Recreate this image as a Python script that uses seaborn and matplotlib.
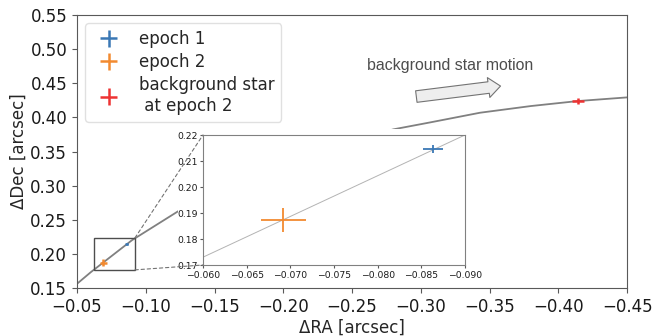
import numpy as np
import seaborn as sns
import matplotlib
matplotlib.use("Agg")
import matplotlib.pyplot as plt
from matplotlib.patches import Rectangle, ConnectionPatch

# track of a background star
track_ra = [-0.05, -0.06, -0.09, -0.124, -0.161, -0.198, -0.234, -0.280,
            -0.307, -0.343, -0.380, -0.414, -0.45]
track_dec = [0.156, 0.173, 0.220, 0.263, 0.2995, 0.3302, 0.3566, 0.3825,
             0.3928, 0.4069, 0.4167, 0.424, 0.4294]

# measured positions
ep1_ra, ep1_dec, ep1_xerr, ep1_yerr = -0.0863, 0.2146, 0.00115, 0.0015
ep2_ra, ep2_dec, ep2_xerr, ep2_yerr = -0.0692, 0.1873, 0.0026, 0.0047
bg_ra, bg_dec, bg_xerr, bg_yerr = -0.414, 0.424, 0.0044, 0.004

labels = ["epoch 1", "epoch 2", "background star\n at epoch 2"]
colors = ["#3a78b5", "#f28a30", "#ee3333"]

# zoom box in main axes
box_ra = (-0.0625, -0.0922)
box_dec = (0.1765, 0.2235)

sns.set_style("ticks", {"axes.edgecolor": "0.35", "xtick.color": "0.35", "ytick.color": "0.35"})
plt.rcParams.update({"font.size": 12, "font.family": ["DejaVu Sans"],
                     "xtick.labelcolor": "0.1", "ytick.labelcolor": "0.1"})

fig = plt.figure(figsize=(6.52, 3.36), dpi=100)
ax = fig.add_axes([0.118, 0.143, 0.844, 0.812])
ax.set_zorder(0)

sns.lineplot(x=track_ra, y=track_dec, sort=False, estimator=None, ax=ax,
             color="0.5", lw=1.3)
ax.errorbar(ep1_ra, ep1_dec, xerr=ep1_xerr, yerr=ep1_yerr, fmt="none",
            ecolor=colors[0], elinewidth=1.8, label=labels[0])
ax.errorbar(ep2_ra, ep2_dec, xerr=ep2_xerr, yerr=ep2_yerr, fmt="none",
            ecolor=colors[1], elinewidth=1.8, label=labels[1])
ax.errorbar(bg_ra, bg_dec, xerr=bg_xerr, yerr=bg_yerr, fmt="none",
            ecolor=colors[2], elinewidth=1.8, label=labels[2])

ax.set_xlim(-0.05, -0.45)
ax.set_ylim(0.15, 0.55)
ax.set_xticks(np.arange(-0.05, -0.451, -0.05))
ax.set_yticks(np.arange(0.15, 0.551, 0.05))
ax.tick_params(labelsize=12)
ax.set_xlabel("ΔRA [arcsec]", fontsize=12, labelpad=2)
ax.set_ylabel("ΔDec [arcsec]", fontsize=12, labelpad=2)
ax.legend(loc="upper left", fontsize=12, handlelength=2.0, labelspacing=0.3,
          borderpad=0.4, edgecolor="0.85")

# motion arrow + text
ax.annotate("", xy=(-0.3579, 0.446), xytext=(-0.2967, 0.4306),
            arrowprops=dict(arrowstyle="simple,head_length=0.6,head_width=1.0,tail_width=0.58",
                            mutation_scale=14.4, fc="#eeeeee", ec="0.45", lw=0.8,
                            shrinkA=0, shrinkB=0))
ax.text(-0.3215, 0.4767, "background star motion", ha="center", va="center",
        fontsize=11.4, color="0.3", family=["Liberation Sans", "DejaVu Sans"])

# zoom box
ax.add_patch(Rectangle((box_ra[0], box_dec[0]), box_ra[1] - box_ra[0], box_dec[1] - box_dec[0],
                       fill=False, ec="0.3", lw=1.0, zorder=3))

# white backing behind the inset (covers its tick labels too)
fig.add_artist(Rectangle((0.273, 0.161), 0.448, 0.455, transform=fig.transFigure,
                         fc="white", ec="none", zorder=1))

# inset
axin = fig.add_axes([0.3113, 0.2113, 0.4018, 0.3869])
axin.set_zorder(2)
axin.set_facecolor("white")
sns.lineplot(x=track_ra, y=track_dec, sort=False, estimator=None, ax=axin,
             color="0.7", lw=0.7)
axin.errorbar(ep1_ra, ep1_dec, xerr=ep1_xerr, yerr=ep1_yerr, fmt="none",
              ecolor=colors[0], elinewidth=1.3)
axin.errorbar(ep2_ra, ep2_dec, xerr=ep2_xerr, yerr=ep2_yerr, fmt="none",
              ecolor=colors[1], elinewidth=1.3)
axin.set_xlim(-0.06, -0.09)
axin.set_ylim(0.17, 0.22)
axin.set_xticks(np.arange(-0.06, -0.0901, -0.005))
axin.set_yticks(np.arange(0.17, 0.2201, 0.01))
axin.tick_params(labelsize=6.7, length=2.5, pad=1.5)
for s in axin.spines.values():
    s.set_color("0.5")
    s.set_linewidth(0.8)

for ya, yb in [(box_dec[1], 1), (box_dec[0], 0)]:
    con = ConnectionPatch(xyA=(box_ra[1], ya), coordsA=ax.transData,
                          xyB=(0, yb), coordsB=axin.transAxes,
                          color="0.45", lw=0.8, ls=(0, (3, 2.5)), zorder=3)
    fig.add_artist(con)

fig.savefig("out.png", dpi=100)
